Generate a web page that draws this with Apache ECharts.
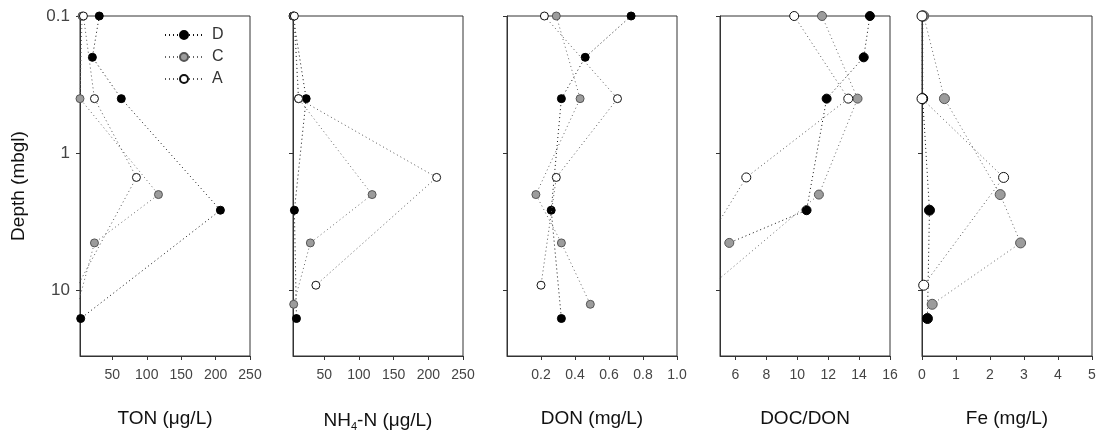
<!DOCTYPE html>
<html>
<head>
<meta charset="utf-8">
<title>Depth profiles</title>
<script src="https://cdn.jsdelivr.net/npm/echarts@6/dist/echarts.min.js"></script>
<style>
    html, body { margin: 0; padding: 0; background: #fff; }
    #chart { width: 1103px; height: 440px; }
</style>
</head>
<body>
<div id="chart"></div>
<script>
// sampling depths (m below ground level) of each well
const depthD = [0.1, 0.2, 0.4, 2.6, 4.5, 16]
const depthC = [0.1, 0.4, 2, 4.5, 12.6]
const depthA = [0.1, 0.4, 1.5, 9.15]

// TON (ug/L)  - null = no sample at that depth
const tonD = [31, 21, 63, 207, null, 4]
const tonC = [6, 3, 117, 24, 0]
const tonA = [8, 24, 85, 0]

// NH4-N (ug/L)
const nh4D = [5, null, 24, 7, null, 10]
const nh4C = [6, 13, 119, 30, 6]
const nh4A = [7, 13, 212, 38]

// DON (mg/L)
const donD = [0.73, 0.46, 0.32, 0.26, null, 0.32]
const donC = [0.29, 0.43, 0.17, 0.32, 0.49]
const donA = [0.22, 0.65, 0.29, 0.20]

// DOC/DON
const docD = [14.7, 14.3, 11.9, 10.6, 5.6, null]
const docC = [11.6, 13.9, 11.4, null, 3.0]
const docA = [9.8, 13.3, 6.7, 2.4]

// Fe (mg/L)
const feD = [0.02, null, 0.02, 0.22, null, 0.16]
const feC = [0.05, 0.66, 2.3, 2.9, 0.3]
const feA = [0, 0, 2.4, 0.05]

// axis ranges and tick labels
const xMin = [3, 5, 0, 5, 0]
const xMax = [250, 250, 1, 16, 5]
const tonTicks = [50, 100, 150, 200, 250]
const nh4Ticks = [50, 100, 150, 200, 250]
const donTicks = [0.2, 0.4, 0.6, 0.8, 1.0]
const docTicks = [6, 8, 10, 12, 14, 16]
const feTicks = [0, 1, 2, 3, 4, 5]
const depthTicks = [0.1, 1, 10]

const wells = ['D', 'C', 'A']
const depths = { D: depthD, C: depthC, A: depthA }

const panels = [
    { name: 'TON (\u03bcg/L)', ticks: tonTicks, D: tonD, C: tonC, A: tonA },
    { name: '{t|NH}{s|4}{t|-N (\u03bcg/L)}', ticks: nh4Ticks, D: nh4D, C: nh4C, A: nh4A },
    { name: 'DON (mg/L)', ticks: donTicks, D: donD, C: donC, A: donA, fixed: 1 },
    { name: 'DOC/DON', ticks: docTicks, D: docD, C: docC, A: docA, grayAt: 4 },
    { name: 'Fe (mg/L)', ticks: feTicks, D: feD, C: feC, A: feA }
]

const gridLeft = [80, 293, 507, 720, 922]
const symbolSizes = [8, 8, 8, 9, 10]

const wellStyle = {
    D: { fill: '#000', border: '#000', line: '#111' },
    C: { fill: '#9c9c9c', border: '#555', line: '#666' },
    A: { fill: '#fff', border: '#111', line: '#555' }
}

const font = '"Liberation Sans", Arial, sans-serif'

let grid = []
let xAxis = []
let yAxis = []
let series = []

panels.forEach((p, i) => {
    grid.push({
        left: gridLeft[i],
        top: 16,
        width: 170,
        height: 340,
        show: true,
        borderColor: '#333',
        borderWidth: 1
    })
    xAxis.push({
        type: 'value',
        gridIndex: i,
        min: xMin[i],
        max: xMax[i],
        name: p.name,
        nameLocation: 'middle',
        nameGap: 53,
        nameTextStyle: {
            fontFamily: font,
            fontSize: 19,
            color: '#111',
            rich: {
                t: { fontFamily: font, fontSize: 19, color: '#111' },
                s: { fontFamily: font, fontSize: 11, color: '#111', padding: [12, 0, 0, 0] }
            }
        },
        splitLine: { show: false },
        axisLine: { lineStyle: { color: '#333' } },
        axisTick: { length: 4, customValues: p.ticks, lineStyle: { color: '#333' } },
        axisLabel: {
            customValues: p.ticks,
            margin: 12,
            fontFamily: font,
            fontSize: 14,
            color: '#444',
            formatter: v => p.fixed ? v.toFixed(p.fixed) : String(v)
        }
    })
    yAxis.push({
        type: 'log',
        logBase: 10,
        gridIndex: i,
        min: 0.1,
        max: 30,
        inverse: true,
        name: i === 0 ? 'Depth (mbgl)' : '',
        nameLocation: 'middle',
        nameGap: 52,
        nameTextStyle: { fontFamily: font, fontSize: 19, color: '#111' },
        splitLine: { show: false },
        axisLine: { lineStyle: { color: '#333' } },
        axisTick: { length: 4, customValues: depthTicks, lineStyle: { color: '#333' } },
        axisLabel: {
            show: i === 0,
            margin: 10,
            fontFamily: font,
            fontSize: 17,
            color: '#444',
            formatter: v => depthTicks.some(t => Math.abs(t - v) < 1e-6) ? String(v) : ''
        }
    })

    wells.forEach((w, k) => {
        let st = wellStyle[w]
        let data = []
        p[w].forEach((v, j) => {
            if (v === null) return
            let item = { value: [v, depths[w][j]] }
            // DOC/DON: the D profile ends on a grey marker
            if (w === 'D' && p.grayAt === j) {
                item.itemStyle = { color: wellStyle.C.fill, borderColor: wellStyle.C.border }
            }
            data.push(item)
        })
        series.push({
            name: w,
            type: 'line',
            xAxisIndex: i,
            yAxisIndex: i,
            data: data,
            symbol: 'circle',
            symbolSize: symbolSizes[i],
            showSymbol: true,
            clip: true,
            z: 2 + k,
            lineStyle: { color: st.line, width: 1, type: [1, 3] },
            itemStyle: { color: st.fill, borderColor: st.border, borderWidth: 1 },
            emphasis: { disabled: true }
        })
    })
})

const chart = echarts.init(document.getElementById('chart'))
chart.setOption({
    animation: false,
    backgroundColor: '#fff',
    legend: {
        data: wells,
        orient: 'vertical',
        left: 164,
        top: 27,
        padding: 0,
        itemWidth: 38,
        itemHeight: 10,
        itemGap: 6,
        textStyle: { fontFamily: font, fontSize: 16, color: '#333', padding: [0, 0, 0, 4] }
    },
    grid: grid,
    xAxis: xAxis,
    yAxis: yAxis,
    series: series
})
window.addEventListener('resize', () => chart.resize(), false)
</script>
</body>
</html>
